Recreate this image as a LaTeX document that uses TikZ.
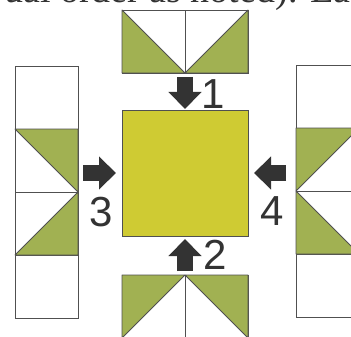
\documentclass[tikz,border=0pt]{standalone}
\usepackage{fontspec}
\setmainfont{Liberation Serif}
\newfontfamily\labelfont{Liberation Sans}
\usetikzlibrary{positioning,arrows.meta}
\definecolor{leaf}{RGB}{161, 177, 82}
\definecolor{mustard}{RGB}{207, 203, 51}
\definecolor{edgegray}{RGB}{80, 80, 80}
\definecolor{arrowgray}{RGB}{51, 51, 51}
\tikzstyle{cell} = [rectangle, draw=edgegray, line width=0.8pt, fill=white, minimum size=63pt, inner sep=0pt, outer sep=0pt]
\tikzstyle{centre} = [rectangle, draw=edgegray, line width=0.8pt, fill=mustard, minimum size=126pt, inner sep=0pt, outer sep=0pt]
\tikzstyle{half} = [fill=leaf, draw=edgegray, line width=0.8pt, line join=round]
\tikzstyle{push} = [draw=arrowgray, line width=16pt, -{Triangle[length=17pt, width=32pt]}]
\tikzstyle{num} = [font=\labelfont\fontsize{42}{42}\selectfont, text=arrowgray, inner sep=0pt]

\begin{document}
\begin{tikzpicture}[x=1pt, y=-1pt]
\useasboundingbox (0,0) rectangle (351,337);
\clip (0,0) rectangle (351,337);
\fill[white] (0,0) rectangle (351,337);

% text above =============================
\node[anchor=base west, inner sep=0pt, font=\fontsize{38}{38}\selectfont, text=arrowgray] (caption) at (4,3) {ual order as noted). Ea};

% blocks =================================
\node[centre] (center) at (185,173) {};
\node[cell, above left=37pt and 0pt of center.north] (t1) {};
\node[cell, right=0pt of t1] (t2) {};
\node[cell, below left=39pt and 0pt of center.south] (b1) {};
\node[cell, right=0pt of b1] (b2) {};
\node[cell, below left=19pt and 44pt of center.west] (l3) {};
\node[cell, above=0pt of l3] (l2) {};
\node[cell, above=0pt of l2] (l1) {};
\node[cell, below=0pt of l3] (l4) {};
\node[cell, below right=18pt and 48pt of center.east] (r3) {};
\node[cell, above=0pt of r3] (r2) {};
\node[cell, above=0pt of r2] (r1) {};
\node[cell, below=0pt of r3] (r4) {};

% green halves
\path[half] (t1.north west) -- (t1.south west) -- (t1.south east) -- cycle;
\path[half] (t2.north east) -- (t2.south east) -- (t2.south west) -- cycle;
\path[half] (b1.north west) -- (b1.north east) -- (b1.south west) -- cycle;
\path[half] (b2.north west) -- (b2.north east) -- (b2.south east) -- cycle;
\path[half] (l2.north west) -- (l2.north east) -- (l2.south east) -- cycle;
\path[half] (l3.north east) -- (l3.south east) -- (l3.south west) -- cycle;
\path[half] (r2.north west) -- (r2.north east) -- (r2.south west) -- cycle;
\path[half] (r3.north west) -- (r3.south west) -- (r3.south east) -- cycle;

% arrows
\path[push, shorten <=4pt, shorten >=1pt] (t1.south east) -- (center.north);
\path[push, shorten <=4pt, shorten >=3pt] (b1.north east) -- (center.south);
\path[push, shorten <=5pt, shorten >=6pt] (center.west -| l3.east) -- (center.west);
\path[push, shorten <=10pt, shorten >=6pt] (center.east -| r3.west) -- (center.east);

% labels
\node[num] (n1) at (213,94) {1};
\node[num] (n2) at (215,255) {2};
\node[num] (n3) at (101,212) {3};
\node[num] (n4) at (272,211) {4};

\end{tikzpicture}
\end{document}
